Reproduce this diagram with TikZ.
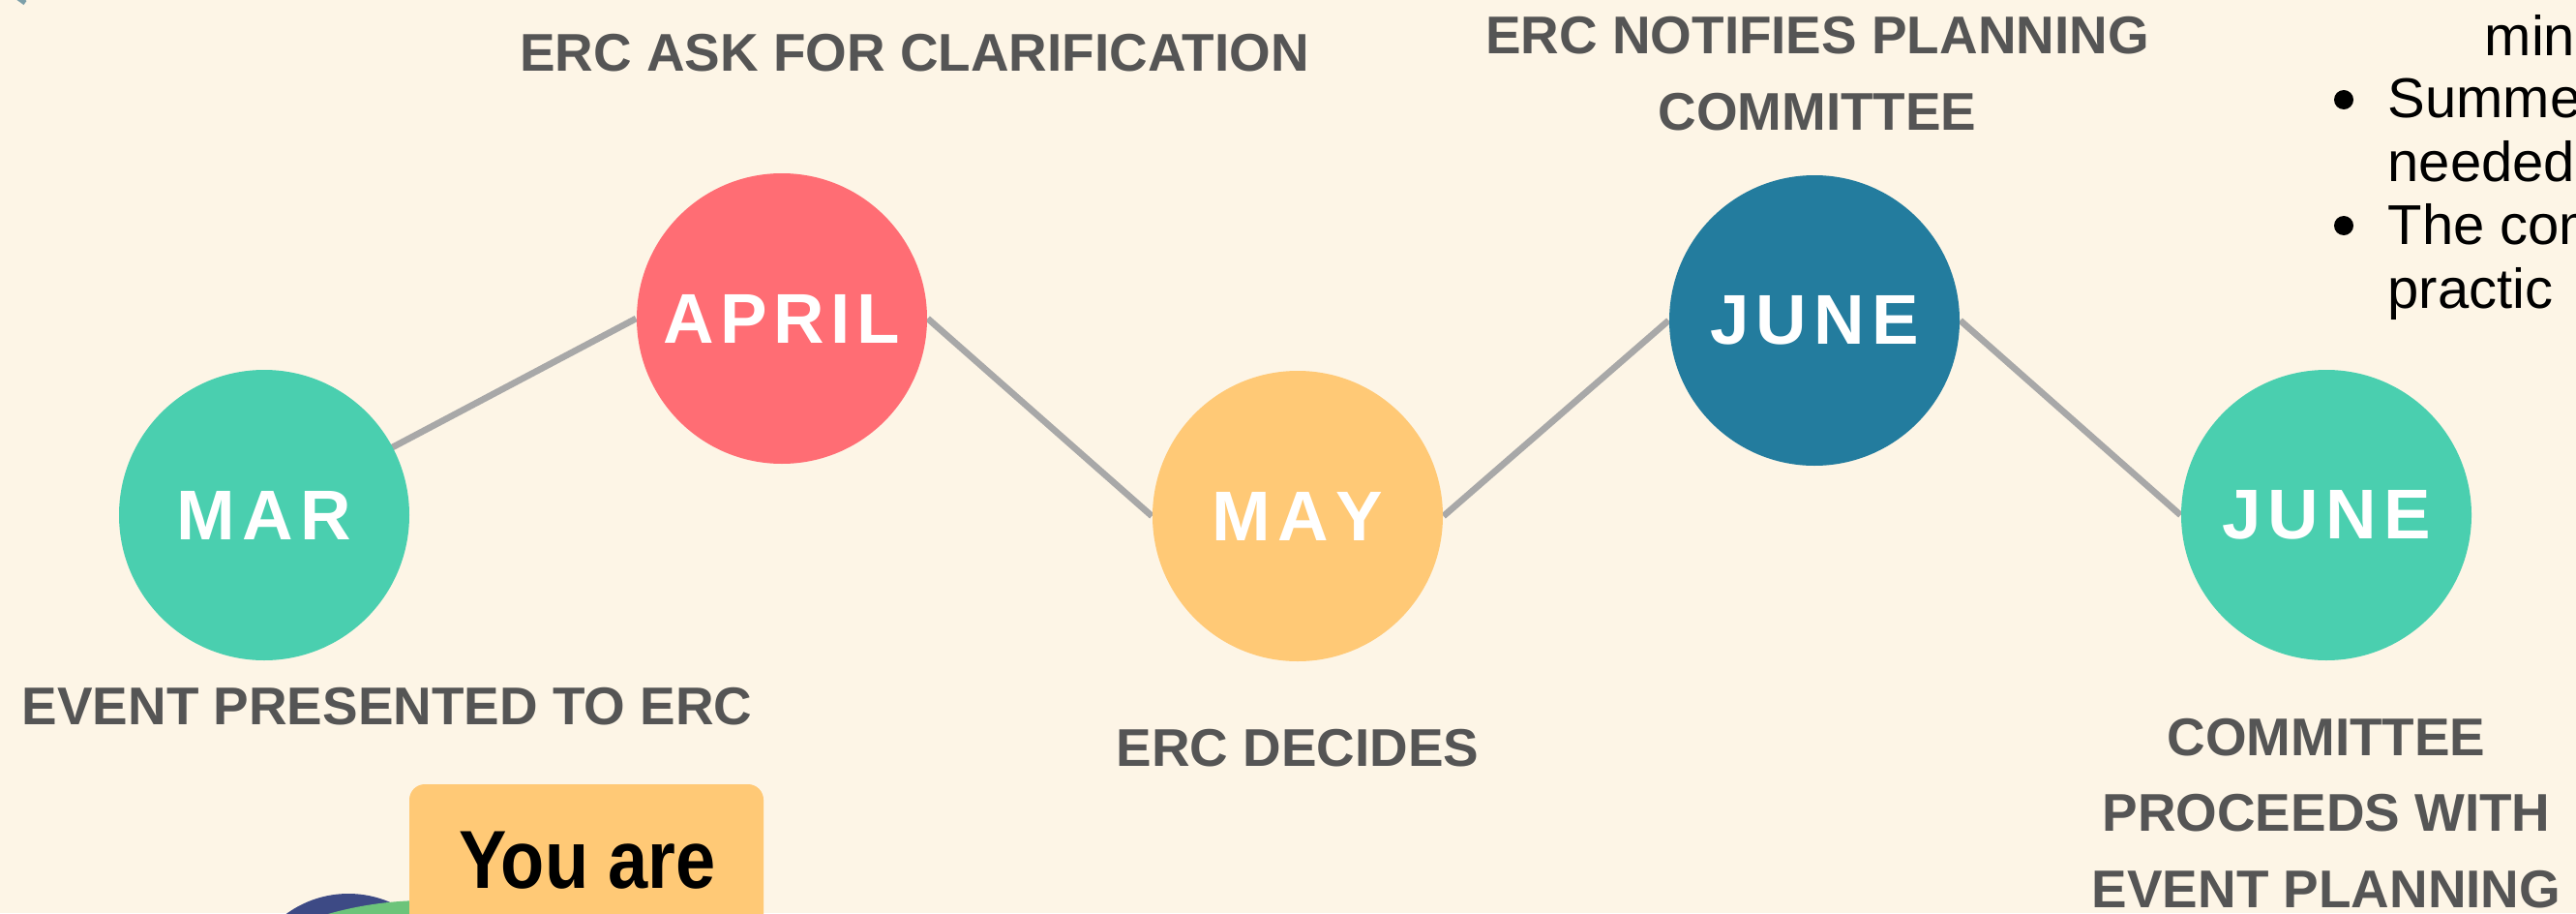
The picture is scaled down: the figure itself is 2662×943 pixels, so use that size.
\documentclass[tikz,border=0pt]{standalone}
\usepackage{fontspec}
\setmainfont{Liberation Sans}
\definecolor{bgc}{HTML}{FDF5E6}
\definecolor{labgray}{HTML}{555555}
\definecolor{linegray}{HTML}{A8A8A8}
\definecolor{tealc}{HTML}{4ACFAF}
\definecolor{coral}{HTML}{FF6D74}
\definecolor{amber}{HTML}{FFC976}
\definecolor{deepblue}{HTML}{237C9E}
\definecolor{navy}{HTML}{3D4A85}
\definecolor{leaf}{HTML}{6CC47A}
\definecolor{markc}{HTML}{7C9FA9}
\pgfdeclarelayer{back}
\pgfdeclarelayer{lines}
\pgfsetlayers{back,lines,main}
\begin{document}
\begin{tikzpicture}[x=0.1mm,y=-0.1mm,
  lab/.style={text=labgray,font=\fontsize{15.6}{22.3}\selectfont\bfseries,align=center,inner sep=0pt},
  month/.style={circle,minimum size=30mm,inner sep=0pt,text=white,font=\fontsize{20.7}{24}\selectfont\bfseries},
  conn/.style={draw=linegray,line width=1.9pt},
  bodytext/.style={anchor=base west,inner sep=0pt,text=black,font=\fontsize{16.5}{20}\selectfont},
  bulletdot/.style={circle,fill=black,minimum size=2mm,inner sep=0pt}]
\clip (0,0) rectangle (2662,943);
\begin{pgfonlayer}{back}
\fill[bgc] (0,0) rectangle (2662,943);
\end{pgfonlayer}
% small mark top-left
\draw[markc,line width=1.45pt] (8,-10) -- (26,3);
% month circles
\node[month,fill=tealc] (mar) at (273,532) {M\kern.1em A\kern.1em R};
\node[month,fill=coral] (apr) at (808,329) {A\kern.09em P\kern.09em R\kern.09em I\kern.09em L};
\node[month,fill=amber] (may) at (1341,533) {M\kern.1em A\kern.1em Y};
\node[month,fill=deepblue] (jun) at (1875,331) {J\kern.1em U\kern.1em N\kern.1em E};
\node[month,fill=tealc] (jun2) at (2404,532) {J\kern.1em U\kern.1em N\kern.1em E};
% connectors
\begin{pgfonlayer}{lines}
\draw[conn] (mar.center) -- (apr.west);
\draw[conn] (apr.east) -- (may.west);
\draw[conn] (may.east) -- (jun.west);
\draw[conn] (jun.east) -- (jun2.west);
\end{pgfonlayer}
% labels
\node[lab] (l1) at (945,55) {ERC ASK FOR CLARIFICATION};
\node[lab] (l2) at (1878,76) {ERC NOTIFIES PLANNING\\COMMITTEE};
\node[lab] (l3) at (400,730) {EVENT PRESENTED TO ERC};
\node[lab] (l4) at (1341,773) {ERC DECIDES};
\node[lab] (l5) at (2404,840) {COMMITTEE\\PROCEEDS WITH\\EVENT PLANNING};
% bottom-left illustration and note box
\fill[navy] (360,1032) circle[radius=10.9mm];
\fill[leaf] (440,1300) circle[radius=37mm];
\fill[amber,rounded corners=1.6mm] (423,810) rectangle (789,1010);
\node[anchor=base,inner sep=0pt,font=\fontsize{24.2}{28}\selectfont\bfseries] (note) at (607,917) {\scalebox{0.87}[1]{You are}};
% right-side bulleted text
\node[bodytext] (t0) at (2567,57) {min};
\node[bulletdot] (b1) at (2422,103) {};
\node[bodytext] (t1) at (2467,121) {Summer};
\node[bodytext] (t2) at (2467,187) {needed};
\node[bulletdot] (b2) at (2422,233) {};
\node[bodytext] (t3) at (2467,252) {The com};
\node[bodytext] (t4) at (2467,318) {practic};
\end{tikzpicture}
\end{document}
